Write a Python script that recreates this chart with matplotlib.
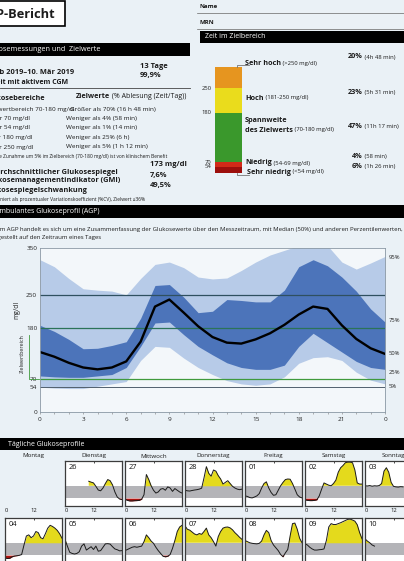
import numpy as np
import matplotlib
matplotlib.use("Agg")
import matplotlib.pyplot as plt
from matplotlib.patches import Rectangle
from matplotlib.lines import Line2D

plt.rcParams['font.family'] = ['Open Sans', 'DejaVu Sans']

W, H = 404, 561
nan = np.nan

# AGP Perzentile, stündlich 0..24 Uhr (mg/dl)
hours = list(range(25))
p05 = [53, 51, 50, 50, 55, 60, 65, 110, 140, 138, 115, 95, 80, 67, 60, 57, 60, 75, 104, 116, 118, 110, 85, 68, 60]
p25 = [77, 75, 74, 74, 77, 80, 95, 140, 190, 192, 165, 140, 122, 105, 95, 91, 91, 100, 140, 168, 148, 128, 108, 95, 91]
p50 = [128, 118, 105, 95, 91, 95, 108, 150, 225, 240, 212, 183, 160, 148, 146, 155, 168, 186, 208, 225, 220, 185, 156, 136, 124]
p75 = [185, 172, 155, 135, 136, 142, 150, 200, 270, 272, 245, 212, 215, 240, 238, 235, 235, 260, 310, 325, 312, 288, 258, 220, 192]
p95 = [325, 310, 285, 263, 260, 258, 250, 285, 315, 320, 308, 288, 284, 286, 302, 320, 335, 345, 355, 355, 355, 320, 305, 318, 332]
x_ticks = [0, 3, 6, 9, 12, 15, 18, 21, 24]
x_ticklabels = ["0", "3", "6", "9", "12", "15", "18", "21", "0"]
y_ticks = [0, 54, 70, 180, 250, 350]
pct_names = ["95%", "75%", "50%", "25%", "5%"]
pct_pos = [330, 195, 125, 85, 55]

# Zeit im Zielbereich (von unten nach oben)
tir_pct = [6, 4, 47, 23, 20]
tir_colors = ["#9c0f0c", "#d22a18", "#3a982c", "#eadc1c", "#e6951f"]
tir_edges = ["54", "70", "180", "250"]
tir_texts = ["20%", "23%", "47%", "4%", "6%"]
tir_times = [" (4h 48 min)", " (5h 31 min)", " (11h 17 min)", " (58 min)", " (1h 26 min)"]

# Tägliche Profile, stündlich 0..24
d26 = [nan, nan, nan, nan, nan, nan, nan, nan, nan, nan, 220, 212, 205, 175, 142, 135, 160, 200, 235, 225, 188, 125, 80, 62, 57]
d27 = [60, 50, 45, 45, 47, 48, 50, 60, 100, 280, 235, 180, 140, 115, 125, 150, 155, 140, 170, 160, 130, 155, 140, 125, 115]
d28 = [140, 135, 133, 138, 142, 145, 150, 158, 250, 350, 290, 265, 320, 310, 270, 240, 195, 210, 225, 200, 175, 160, 150, 145, 150]
d01 = [90, 85, 75, 72, 80, 90, 110, 160, 200, 215, 160, 120, 95, 100, 140, 180, 210, 235, 240, 238, 200, 150, 100, 80, 72]
d02 = [55, 50, 48, 48, 50, 55, 90, 150, 205, 195, 185, 180, 200, 230, 300, 340, 360, 385, 390, 390, 385, 320, 205, 195, 195]
d03 = [180, 178, 182, 176, 180, 178, 182, 200, 310, 340, 300, 210, 175, 170, 168, 172, 170, nan, nan, nan, nan, nan, nan, nan, nan]
d04 = [45, 40, 42, 55, 62, 65, 68, 75, 160, 240, 250, 225, 240, 280, 270, 225, 215, 260, 310, 335, 325, 310, 290, 260, 220]
d05 = [210, 150, 95, 85, 80, 85, 100, 150, 170, 115, 130, 145, 120, 150, 105, 110, 140, 170, 172, 168, 145, 125, 118, 108, 110]
d06 = [110, 120, 130, 140, 145, 140, 145, 150, 190, 250, 225, 195, 175, 140, 110, 85, 60, 55, 60, 75, 130, 200, 280, 320, 335]
d07 = [330, 300, 292, 275, 258, 250, 262, 255, 280, 310, 250, 225, 190, 150, 235, 280, 310, 318, 320, 312, 295, 270, 250, 228, 210]
d08 = [200, 190, 180, 175, 172, 170, 175, 195, 250, 290, 270, 200, 160, 135, 110, 75, 55, 90, 120, 240, 350, 355, 300, 220, 180]
d09 = [170, 160, 140, 125, 115, 115, 118, 120, 125, 200, 320, 350, 342, 342, 350, 358, 368, 378, 388, 390, 382, 372, 340, 270, 215]
d10 = [215, 195, 180, 160, 150, nan, nan, nan, nan, nan, nan, nan, nan, nan, nan, nan, nan, nan, nan, nan, nan, nan, nan, nan, nan]
weekdays = ["Montag", "Dienstag", "Mittwoch", "Donnerstag", "Freitag", "Samstag", "Sonntag"]
row1 = [(1, "26", d26), (2, "27", d27), (3, "28", d28), (4, "01", d01), (5, "02", d02), (6, "03", d03)]
row2 = [(0, "04", d04), (1, "05", d05), (2, "06", d06), (3, "07", d07), (4, "08", d08), (5, "09", d09), (6, "10", d10)]

fig = plt.figure(figsize=(4.04, 5.61), dpi=100, facecolor="#eaf1f6")
rend = fig.canvas.get_renderer()


def T(x, y, s, size=4.8, weight="normal", ha="left", color="#1b1b1b", **kw):
    return fig.text(x / W, 1 - y / H, s, fontsize=size, fontweight=weight,
                    ha=ha, va="center", color=color, **kw)


def runs(x, y, parts, size=4.8):
    # mehrere Textstücke hintereinander (fett / normal)
    for s, wgt, sz in parts:
        t = T(x, y, s, size=sz or size, weight=wgt)
        x += t.get_window_extent(renderer=rend).width


def bar(x0, y0, x1, y1, text, size=5.2, tx=None):
    fig.add_artist(Rectangle((x0 / W, 1 - y1 / H), (x1 - x0) / W, (y1 - y0) / H,
                             transform=fig.transFigure, color="black", lw=0))
    T(tx if tx is not None else x0 + 4, (y0 + y1) / 2, text, size=size, color="white")


def hline(x0, x1, y, color="#555", lw=0.6):
    fig.add_artist(Line2D([x0 / W, x1 / W], [1 - y / H, 1 - y / H],
                          transform=fig.transFigure, color=color, lw=lw))


def axes_px(x0, y0, w, h):
    return fig.add_axes([x0 / W, 1 - (y0 + h) / H, w / W, h / H])


# Kopf
fig.add_artist(Rectangle((-10 / W, 1 - 26 / H), 75 / W, 25 / H, transform=fig.transFigure,
                         facecolor="white", edgecolor="black", lw=1.2))
T(55, 14, "AGP-Bericht", size=9.3, weight="bold", ha="right")
T(199, 6, "Name", size=4.4, weight="bold")
hline(197, 404, 13, color="#666", lw=0.5)
T(200, 23, "MRN", size=4.4, weight="bold")
hline(197, 404, 29, color="#666", lw=0.5)

# Glukosemessungen und Zielwerte
bar(0, 43, 190, 56, "Glukosemessungen und  Zielwerte", tx=-17)
T(140, 66, "13 Tage", size=5.4, weight="bold")
T(140, 76, "99,9%", size=5.4, weight="bold")
T(-22, 72, "26. Feb 2019–10. Mär 2019", size=5.4, weight="bold")
T(-16, 82, "% Zeit mit aktivem CGM", size=5.0, weight="bold")
hline(0, 190, 88, color="#444", lw=0.6)
T(-15, 99, "Glukosebereiche", size=5.2, weight="bold")
runs(76, 96, [("Zielwerte", "bold", 5.2), (" (% Ablesung (Zeit/Tag))", "normal", 5.0)])
ranges = ["Zielwertbereich 70-180 mg/dl", "Unter 70 mg/dl", "Unter 54 mg/dl", "Über 180 mg/dl", "Über 250 mg/dl"]
range_x = [-13, -15, -15, -14, -13]
targets = ["Größer als 70% (16 h 48 min)", "Weniger als 4% (58 min)", "Weniger als 1% (14 min)",
           "Weniger als 25% (6 h)", "Weniger als 5% (1 h 12 min)"]
for i, (r, t) in enumerate(zip(ranges, targets)):
    y = 109 + i * 9.5
    T(range_x[i], y, r, size=4.6)
    T(70 if i == 0 else 66, y, t, size=4.6)
T(-8, 157, "Jede Zunahme um 5% im Zielbereich (70-180 mg/dl) ist von klinischem Benefit", size=3.5)
T(150, 164, "173 mg/dl", size=5.4, weight="bold")
T(-10, 172, "Durchschnittlicher Glukosespiegel", size=5.3, weight="bold")
T(150, 176, "7,6%", size=5.4, weight="bold")
T(-15, 181, "Glukosemanagementindikator (GMI)", size=5.3, weight="bold")
T(150, 186, "49,5%", size=5.4, weight="bold")
T(-15, 191, "Glukosespiegelschwankung", size=5.3, weight="bold")
T(-9, 199, "Definiert als prozentualer Variationskoeffizient (%CV), Zielwert ≤36%", size=3.5)

# Zeit im Zielbereich
bar(200, 31, 404, 43, "Zeit im Zielbereich", size=5.0, tx=205)
ax_t = axes_px(215, 67, 27, 106)
cum = np.concatenate([[0], np.cumsum(tir_pct)])
ax_t.bar([0] * 5, tir_pct, bottom=cum[:-1], width=1.0, color=tir_colors, lw=0)
ax_t.set_xlim(-0.5, 0.5)
ax_t.set_ylim(0, 100)
ax_t.axis("off")
for v, lab in zip(cum[1:5], tir_edges):
    ax_t.text(-0.62, v, lab, ha="right", va="center", fontsize=4.2, color="#222")
ax_t.plot([0.3, 0.3, 0.75], [100, 102, 102], color="#777", lw=0.6, clip_on=False)
ax_t.plot([0.3, 0.3, 0.75], [0, -2, -2], color="#777", lw=0.6, clip_on=False)
runs(245, 64, [("Sehr hoch", "bold", 5.2), (" (>250 mg/dl)", "normal", 4.2)])
runs(245, 98, [("Hoch", "bold", 5.2), (" (181-250 mg/dl)", "normal", 4.2)])
T(245, 121, "Spannweite", size=5.2, weight="bold")
runs(245, 130, [("des Zielwerts", "bold", 5.2), (" (70-180 mg/dl)", "normal", 4.2)])
runs(245, 163, [("Niedrig", "bold", 5.2), (" (54-69 mg/dl)", "normal", 4.2)])
runs(247, 172, [("Sehr niedrig", "bold", 5.2), (" (<54 mg/dl)", "normal", 4.2)])
for y, p, tt in zip([57, 92, 127, 157, 167], tir_texts, tir_times):
    T(363, y, p, size=5.2, weight="bold", ha="right")
    T(363, y, tt, size=4.2)

# AGP
bar(0, 205, 404, 218, "Ambulantes Glukoseprofil (AGP)", size=5.0, tx=-5)
T(-9, 229, "Beim AGP handelt es sich um eine Zusammenfassung der Glukosewerte über den Messzeitraum, "
   "mit Median (50%) und anderen Perzentilenwerten,", size=4.3)
T(-12, 237, "dargestellt auf den Zeitraum eines Tages", size=4.3)

ax = axes_px(40, 248, 345, 164)
ax.set_facecolor("#f3f7fa")
ax.fill_between(hours, p05, p95, color="#b7cbe8", lw=0)
ax.fill_between(hours, p25, p75, color="#4c74ba", lw=0)
ax.axhline(250, color="#2f5060", lw=0.9)
ax.axhline(180, color="#2b7358", lw=0.9)
ax.axhline(70, color="#3f9a3c", lw=0.9)
ax.axhline(54, color="#51606e", lw=0.7)
ax.plot(hours, p50, color="black", lw=1.7)
ax.set_xlim(0, 24)
ax.set_ylim(0, 350)
ax.set_xticks(x_ticks)
ax.set_xticklabels(x_ticklabels)
ax.set_xticks(range(25), minor=True)
ax.set_yticks(y_ticks)
ax.set_yticklabels([str(v) for v in y_ticks])
ax.tick_params(axis="both", labelsize=4.6, colors="#222", pad=2)
ax.tick_params(axis="y", length=0)
ax.tick_params(axis="x", which="both", length=1.5, width=0.4, color="#777")
for s in ax.spines.values():
    s.set_color("#8a98a4")
    s.set_linewidth(0.6)
for name, v in zip(pct_names, pct_pos):
    ax.text(24.25, v, name, fontsize=4.2, va="center", color="#222")
ax.text(-1.6, 218, "mg/dl", rotation=90, fontsize=4.8, ha="center", va="center", color="#222")
ax.text(-1.2, 125, "Zielwertbereich", rotation=90, fontsize=3.9, ha="center", va="center", color="#222")
ax.plot([-0.8, -0.8, -0.1], [165, 70, 70], color="#3f9a3c", lw=0.6, clip_on=False)

# Tägliche Glukoseprofile
bar(0, 438, 404, 450, "Tägliche Glukoseprofile", size=5.0, tx=8)


def col_x(c):
    return 5 + 60 * c


for c, wd in enumerate(weekdays):
    T(col_x(c) + 28.5, 456, wd, size=4.4, ha="center")
    T(col_x(c) + 1, 510, "0", size=4.2, ha="center")
    T(col_x(c) + 28.5, 510, "12", size=4.2, ha="center")


def day_panel(c, top, label, vals):
    a = axes_px(col_x(c), top, 57, 45)
    a.set_facecolor("white")
    y = np.array(vals, dtype=float)
    a.axhspan(70, 180, color="#b4b4b8", lw=0)
    a.fill_between(hours, y, 180, where=y > 180, interpolate=True, color="#e4da1c", lw=0)
    a.fill_between(hours, y, 70, where=y < 70, interpolate=True, color="#ad120e", lw=0)
    a.plot(hours, y, color="#1a1a1a", lw=0.7)
    a.set_xlim(0, 24)
    a.set_ylim(0, 400)
    a.set_xticks([12])
    a.set_xticklabels([])
    a.set_yticks([])
    a.tick_params(axis="x", direction="in", length=1.5, width=0.5, top=True, bottom=False)
    for s in a.spines.values():
        s.set_color("#3c3c3c")
        s.set_linewidth(0.9)
    a.text(0.06, 0.86, label, transform=a.transAxes, fontsize=5.3, va="center", color="#111")


for c, lab, vals in row1:
    day_panel(c, 461, lab, vals)
for c, lab, vals in row2:
    day_panel(c, 518, lab, vals)

fig.savefig("out.png", dpi=100, facecolor=fig.get_facecolor())
